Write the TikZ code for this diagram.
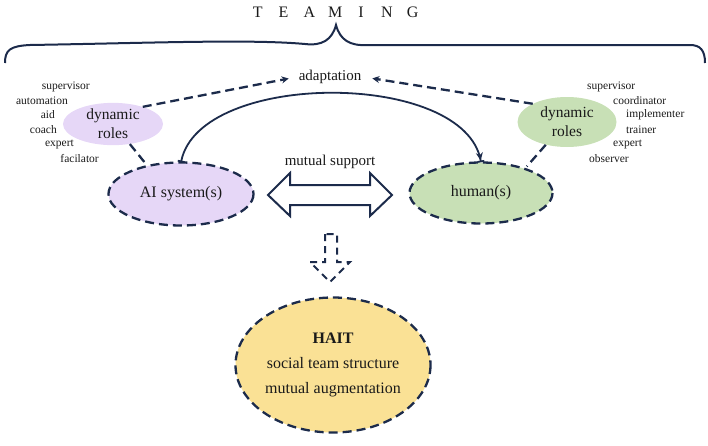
\documentclass[tikz,border=0pt]{standalone}
\usepackage{fontspec}
\setmainfont{Liberation Serif}
\usetikzlibrary{shapes.geometric,arrows.meta}
\definecolor{navy}{HTML}{1C2B4B}
\definecolor{lavender}{HTML}{E6D7F7}
\definecolor{sage}{HTML}{C8E0B6}
\definecolor{sand}{HTML}{FAE195}
\definecolor{ink}{HTML}{1A1A1A}

\begin{document}
\begin{tikzpicture}[x=1pt,y=-1pt,
  dashline/.style={navy,line width=2.3pt,dash pattern=on 9pt off 5pt},
  blob/.style={ellipse,inner sep=0pt,text=ink,font=\fontsize{16}{19}\selectfont},
  rolebox/.style={ellipse,inner sep=0pt,text=ink,align=center,font=\fontsize{15.5}{19}\selectfont},
  role/.style={text=ink,inner sep=0pt,font=\fontsize{11.5}{13}\selectfont},
  midtext/.style={text=ink,inner sep=2pt,font=\fontsize{15}{18}\selectfont}]
\useasboundingbox (0,0) rectangle (708,445);
% teaming brace
\foreach \l [count=\i] in {T,E,A,M,I,N,G} \node[text=ink,font=\fontsize{16}{18}\selectfont] (t\i) at ({232+25.8*\i},12) {\l};
\draw[navy,line width=2pt] (5,63) .. controls (5,50) and (10,46) .. (30,45) .. controls (150,43) and (250,39) .. (305,44) .. controls (322,46) and (332,40) .. (336,25) .. controls (340,40) and (350,46) .. (367,45) -- (690,45) .. controls (700,45) and (705,50) .. (705,63);
% roles
\node[rolebox,fill=lavender,minimum width=100,minimum height=42] (dynL) at (113,124) {dynamic\\roles};
\node[rolebox,fill=sage,minimum width=99,minimum height=50] (dynR) at (567,122) {dynamic\\roles};
\foreach \r/\x/\y [count=\i] in {supervisor/90/87,automation/68/101,aid/55/115,coach/57/130,expert/74/144,facilator/99/159}
  \node[role,anchor=east] (lrole\i) at (\x,\y) {\r};
\foreach \r/\x/\y [count=\i] in {supervisor/587/87,coordinator/613/101,implementer/626/115,trainer/626/130,expert/613/144,observer/589/159}
  \node[role,anchor=west] (rrole\i) at (\x,\y) {\r};
% systems
\node[blob,fill=lavender,draw=none,minimum width=145,minimum height=63] (ai) at (181,194) {AI system(s)};
\draw[dashline] (ai.center) ellipse (72.5 and 31.5);
\node[blob,fill=sage,minimum width=143,minimum height=61] (human) at (481,193) {human(s)};
\draw[dashline] (human.center) ellipse (71.5 and 30.5);
\draw[dashline,shorten >=5pt] (dynL.-50) -- (ai.140);
\draw[dashline,shorten >=3pt] (dynR.-133) -- (human.29);
% adaptation
\node[midtext] (adapt) at (330,77) {adaptation};
\draw[dashline,-{Stealth[length=7pt,width=7pt]},shorten >=8pt] (dynL.30) -- (adapt.west);
\draw[dashline,-{Stealth[length=7pt,width=7pt]},shorten >=9pt] (dynR.152) -- (adapt.east);
\draw[navy,line width=1.8pt,{Bar[width=7pt]}-{Stealth[length=8pt,width=7pt] Bar[width=7pt]}] (ai.north) .. controls (200,70) and (465,70) .. (human.north);
% mutual support
\node[midtext] (support) at (330,162) {mutual support};
\draw[navy,line width=2pt,fill=white,line join=miter] (268,195) -- (290,173) -- (290,185) -- (370,185) -- (370,173) -- (392,195) -- (370,216) -- (370,205) -- (290,205) -- (290,216) -- cycle;
% result
\draw[dashline,line width=2pt,dash pattern=on 7pt off 5pt] (325,234) -- (325,262) -- (310,262) -- (330,282) -- (350,262) -- (337,262) -- (337,234) -- cycle;
\node[blob,fill=sand,align=center,minimum width=195,minimum height=135,font=\fontsize{16}{25}\selectfont] (hait) at (333,365) {\textbf{HAIT}\\social team structure\\mutual augmentation};
\draw[dashline] (hait.center) ellipse (97.5 and 67.5);
\end{tikzpicture}
\end{document}
